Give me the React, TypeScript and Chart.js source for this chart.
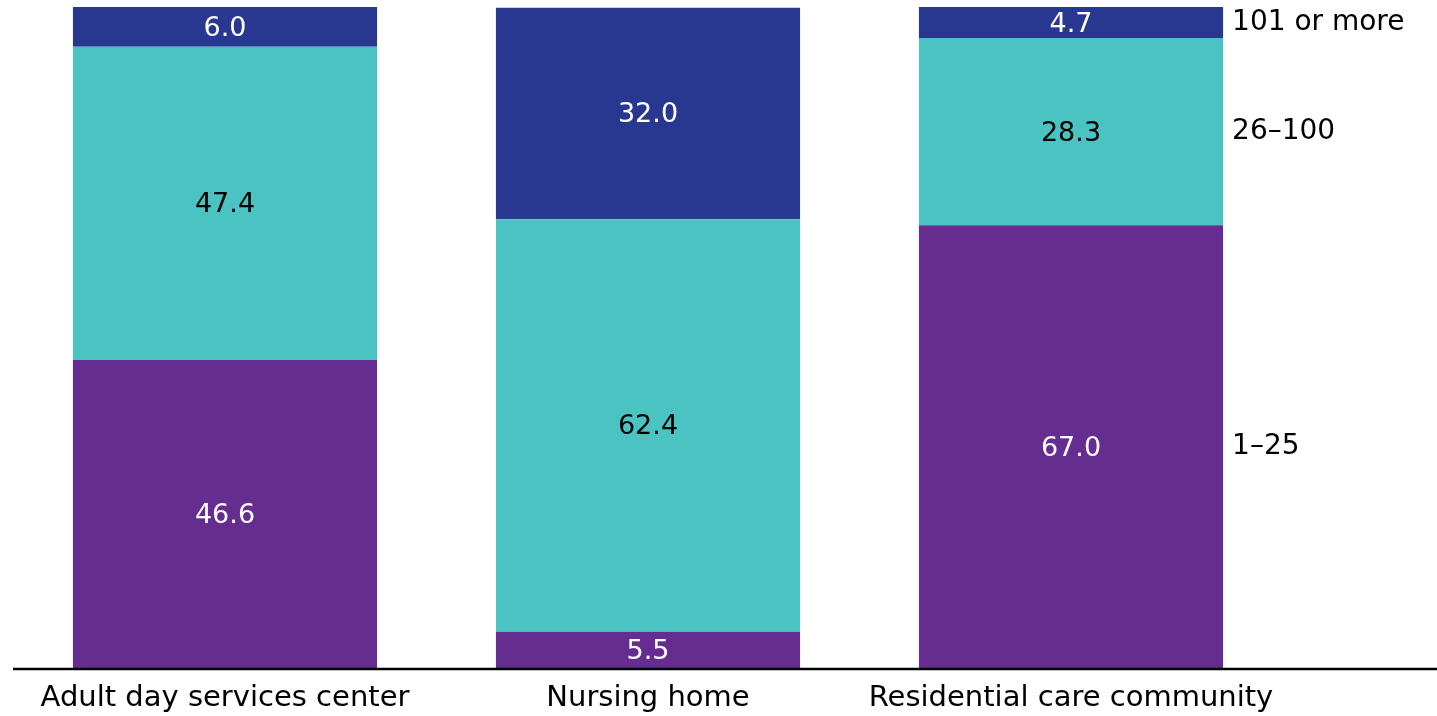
import React, { useEffect, useRef } from "react";
import { Chart, registerables } from "chart.js";

Chart.register(...registerables);

const categories = ["Adult day services center", "Nursing home", "Residential care community"];
const seriesNames = ["1–25", "26–100", "101 or more"];
const small = [46.6, 5.5, 67.0];
const medium = [47.4, 62.4, 28.3];
const large = [6.0, 32.0, 4.7];
const colors = ["#662d91", "#4cc3c3", "#283890"];
const labelColors = ["#ffffff", "#000000", "#ffffff"];

const FONT = '"DejaVu Sans", sans-serif';

const overlayPlugin = {
  id: "overlay",
  afterDatasetsDraw(chart: any) {
    const ctx = chart.ctx;
    const area = chart.chartArea;
    ctx.save();
    chart.data.datasets.forEach((ds: any, di: number) => {
      const meta = chart.getDatasetMeta(di);
      meta.data.forEach((bar: any, i: number) => {
        const v = ds.data[i];
        const cy = (bar.y + bar.base) / 2;
        ctx.fillStyle = labelColors[di];
        ctx.font = `27px ${FONT}`;
        ctx.textAlign = "center";
        ctx.textBaseline = "middle";
        ctx.fillText(v.toFixed(1), bar.x, cy + 2);
      });
      const last = meta.data[meta.data.length - 1];
      ctx.fillStyle = "#000000";
      ctx.font = `28px ${FONT}`;
      ctx.textAlign = "left";
      ctx.textBaseline = "middle";
      ctx.fillText(ds.label, last.x + last.width / 2 + 9, (last.y + last.base) / 2);
    });
    ctx.strokeStyle = "#000000";
    ctx.lineWidth = 2.5;
    ctx.beginPath();
    ctx.moveTo(13, area.bottom + 1);
    ctx.lineTo(chart.width, area.bottom + 1);
    ctx.stroke();
    const xScale = chart.scales.x;
    ctx.fillStyle = "#000000";
    ctx.font = `29px ${FONT}`;
    ctx.textAlign = "center";
    ctx.textBaseline = "middle";
    categories.forEach((c, i) => {
      ctx.fillText(c, xScale.getPixelForValue(i), area.bottom + 30);
    });
    ctx.restore();
  },
};

export default function App() {
  const ref = useRef<HTMLCanvasElement>(null);
  useEffect(() => {
    document.body.style.margin = "0";
    const chart = new Chart(ref.current!, {
      type: "bar",
      data: {
        labels: categories,
        datasets: [
          { label: seriesNames[0], data: small, backgroundColor: colors[0] },
          { label: seriesNames[1], data: medium, backgroundColor: colors[1] },
          { label: seriesNames[2], data: large, backgroundColor: colors[2] },
        ],
      },
      options: {
        animation: false,
        responsive: true,
        maintainAspectRatio: false,
        layout: { padding: { left: 13.5, right: 154.5, top: 7, bottom: 48 } },
        datasets: { bar: { barPercentage: 1, categoryPercentage: 0.719, borderWidth: 0 } },
        plugins: { legend: { display: false }, tooltip: { enabled: false } },
        scales: {
          x: { stacked: true, display: false },
          y: { stacked: true, display: false, min: 0, max: 100 },
        },
      },
      plugins: [overlayPlugin],
    });
    return () => chart.destroy();
  }, []);
  return (
    <div style={{ position: "relative", width: 1437, height: 716 }}>
      <canvas ref={ref} />
    </div>
  );
}
